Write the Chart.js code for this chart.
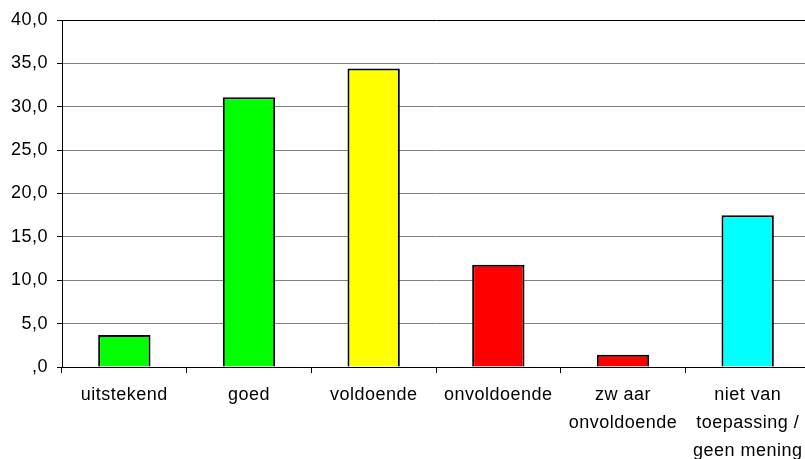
<!DOCTYPE html>
<html>
<head>
<meta charset="utf-8">
<script src="https://cdn.jsdelivr.net/npm/chart.js@4"></script>
<style>
  html, body { margin: 0; padding: 0; background: #fff; overflow: hidden; }
</style>
</head>
<body>
<canvas id="chart" width="812" height="459"></canvas>
<script>
const categories = [
  'uitstekend',
  'goed',
  'voldoende',
  'onvoldoende',
  ['zw aar', 'onvoldoende'],
  ['niet van', 'toepassing /', 'geen mening'],
]
const percentages = [3.7, 31.1, 34.4, 11.8, 1.4, 17.5]
const barColors = ['#00ff00', '#00ff00', '#ffff00', '#ff0000', '#ff0000', '#00ffff']
const yTicks = [0, 5, 10, 15, 20, 25, 30, 35, 40]

const ctx = document.getElementById('chart').getContext('2d')

// tekst iets breder zetten zoals in het origineel
const spacing = {
  id: 'spacing',
  beforeDraw: chart => { chart.ctx.letterSpacing = '0.5px' },
}

new Chart(ctx, {
  type: 'bar',
  data: {
    labels: categories,
    datasets: [
      {
        data: percentages,
        backgroundColor: barColors,
        borderColor: '#000',
        borderWidth: 2,
        barPercentage: 0.42,
        categoryPercentage: 1,
      },
    ],
  },
  options: {
    responsive: false,
    animation: false,
    layout: { padding: { top: 20, right: 2, left: 0, bottom: 0 } },
    plugins: { legend: { display: false }, tooltip: { enabled: false } },
    scales: {
      x: {
        offset: true,
        grid: {
          offset: true,
          drawOnChartArea: false,
          tickLength: 6,
          tickColor: '#000',
        },
        border: { color: '#000', width: 1 },
        ticks: {
          color: '#000',
          padding: 8,
          maxRotation: 0,
          autoSkip: false,
          font: { family: 'Liberation Sans, Arial', size: 18, lineHeight: 1.55 },
        },
        afterFit: scale => { scale.height = 92 },
      },
      y: {
        min: 0,
        max: 40,
        afterBuildTicks: scale => { scale.ticks = yTicks.map(v => ({ value: v })) },
        grid: {
          color: c => (c.tick && c.tick.value === 40 ? '#000' : '#808080'),
          tickLength: 5,
          tickColor: '#000',
          lineWidth: 1,
        },
        border: { color: '#000', width: 1 },
        ticks: {
          color: '#000',
          padding: 9,
          callback: v => (v === 0 ? ',0' : v.toFixed(1).replace('.', ',')),
          font: { family: 'Liberation Sans, Arial', size: 18 },
        },
        afterFit: scale => { scale.width = 62 },
      },
    },
  },
  plugins: [spacing],
})
</script>
</body>
</html>
